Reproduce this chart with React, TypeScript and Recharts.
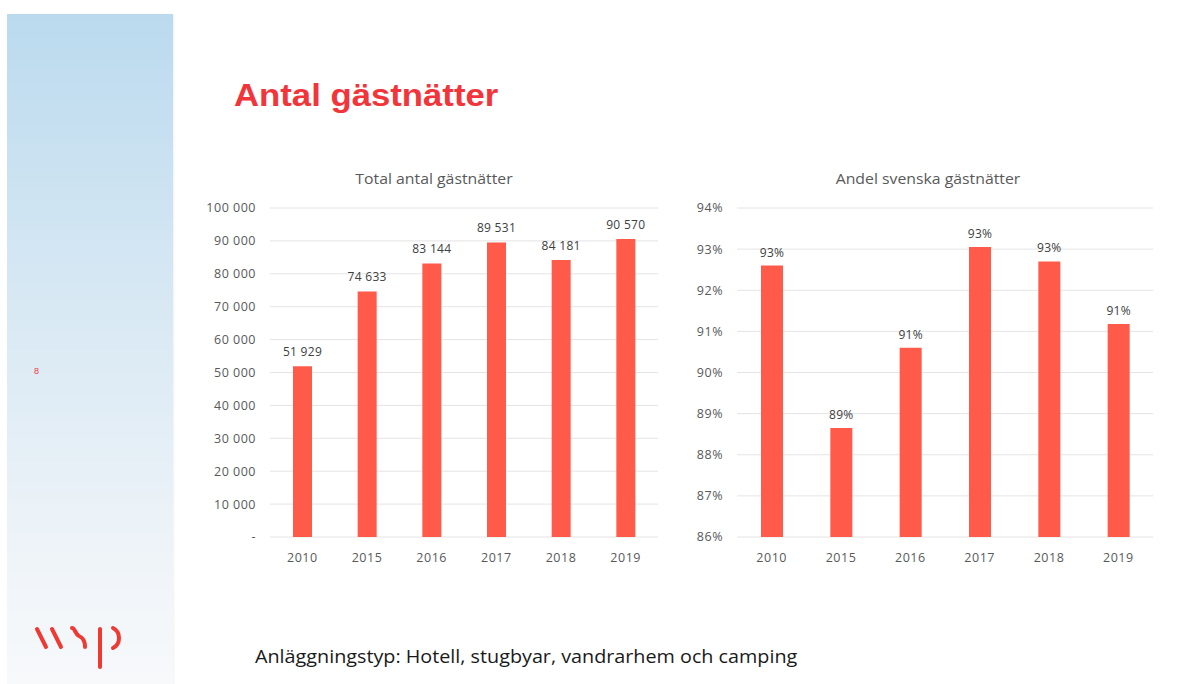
import React from "react";
import {
  Bar,
  BarChart,
  CartesianGrid,
  LabelList,
  XAxis,
  YAxis,
} from "recharts";

const years = ["2010", "2015", "2016", "2017", "2018", "2019"];
const totalNights = [51929, 74633, 83144, 89531, 84181, 90570];
const swedishShare = [0.926, 0.8865, 0.906, 0.9305, 0.927, 0.9118];
const totalTicks = [0, 10000, 20000, 30000, 40000, 50000, 60000, 70000, 80000, 90000, 100000];
const shareTicks = [0.86, 0.87, 0.88, 0.89, 0.9, 0.91, 0.92, 0.93, 0.94];

const totalData = years.map((year, i) => ({ year, value: totalNights[i] }));
const shareData = years.map((year, i) => ({ year, value: swedishShare[i] }));

const BAR = "#ff5a4a";
const RED = "#f2353a";
const TEXT = "#595959";
const FONT = "'Open Sans', Lato, sans-serif";

// non-breaking space so Recharts doesn't wrap "51 929"
const fmtThousands = (v: number) =>
  v === 0 ? "-" : String(Math.round(v)).replace(/\B(?=(\d{3})+(?!\d))/g, "\u00a0");
const fmtPct = (v: number) => `${Math.round(v * 100)}%`;

const tick = { fill: TEXT, fontSize: 12.5, fontFamily: FONT, letterSpacing: 0.5 };
const labelStyle = { fill: "#404040", fontSize: 12, fontFamily: FONT, letterSpacing: 0.3 };

function ChartTitle({ x, y, children }: { x: number; y: number; children: string }) {
  return (
    <div
      style={{
        position: "absolute",
        left: x - 150,
        top: y - 11,
        width: 300,
        textAlign: "center",
        fontFamily: FONT,
        fontSize: 14.5,
        color: TEXT,
        transform: "scaleX(1.09)",
        transformOrigin: "center top",
      }}
    >
      {children}
    </div>
  );
}

function WspLogo() {
  return (
    <svg
      width={1204}
      height={684}
      style={{ position: "absolute", left: 0, top: 0 }}
    >
      <g stroke="#ee3a33" strokeWidth={4} fill="none" strokeLinecap="round">
        <path d="M37 629 L46 647" />
        <path d="M52 629 L61 647" />
        <path d="M72 628 C75 628 75 634 79 636 C84 638 85 642 85 647" />
        <path d="M100 629 L100 667" />
        <path d="M113 628 C121 632 121 644 113 648" />
      </g>
    </svg>
  );
}

export default function App() {
  return (
    <div
      style={{
        position: "absolute",
        left: 0,
        top: 0,
        width: 1204,
        height: 684,
        background: "#fff",
        overflow: "hidden",
        fontFamily: FONT,
      }}
    >
      <div
        style={{
          position: "absolute",
          left: 7,
          top: 14,
          width: 166,
          height: 670,
          background: "linear-gradient(180deg, #bbdaee 0%, #d9e9f4 45%, #f1f5f9 85%, #f7f9fb 100%)",
          boxShadow: "1px 0 2px rgba(0,0,0,0.06)",
        }}
      />
      <div
        style={{
          position: "absolute",
          left: 34,
          top: 366,
          fontSize: 9,
          color: RED,
          fontFamily: "'Liberation Sans', Arial, sans-serif",
        }}
      >
        8
      </div>
      <WspLogo />

      <div
        style={{
          position: "absolute",
          left: 234,
          top: 78,
          fontFamily: "'Liberation Sans', Arial, sans-serif",
          fontWeight: 700,
          fontSize: 31,
          color: RED,
          whiteSpace: "nowrap",
          transform: "scaleX(1.12)",
          transformOrigin: "left top",
        }}
      >
        Antal gästnätter
      </div>

      <ChartTitle x={434} y={180}>Total antal gästnätter</ChartTitle>
      <ChartTitle x={928} y={180}>Andel svenska gästnätter</ChartTitle>

      <div style={{ position: "absolute", left: 200, top: 190 }}>
        <BarChart
          width={460}
          height={377}
          data={totalData}
          margin={{ top: 18, right: 2, bottom: 0, left: 0 }}
          barSize={19}
        >
          <CartesianGrid stroke="#e4e4e4" vertical={false} />
          <XAxis
            dataKey="year"
            tick={tick}
            axisLine={false}
            tickLine={false}
            tickSize={0}
            tickMargin={16}
            height={30}
          />
          <YAxis
            domain={[0, 100000]}
            ticks={totalTicks}
            tickFormatter={fmtThousands}
            tick={tick}
            axisLine={false}
            tickLine={false}
            tickSize={0}
            tickMargin={14}
            width={70}
            interval={0}
          />
          <Bar dataKey="value" fill={BAR} isAnimationActive={false}>
            <LabelList
              dataKey="value"
              position="top"
              offset={10}
              formatter={(v: any) => fmtThousands(Number(v))}
              style={labelStyle}
            />
          </Bar>
        </BarChart>
      </div>

      <div style={{ position: "absolute", left: 667, top: 190 }}>
        <BarChart
          width={488}
          height={377}
          data={shareData}
          margin={{ top: 18, right: 2, bottom: 0, left: 0 }}
          barSize={22}
        >
          <CartesianGrid stroke="#e4e4e4" vertical={false} />
          <XAxis
            dataKey="year"
            tick={tick}
            axisLine={false}
            tickLine={false}
            tickSize={0}
            tickMargin={16}
            height={30}
          />
          <YAxis
            domain={[0.86, 0.94]}
            ticks={shareTicks}
            tickFormatter={fmtPct}
            tick={tick}
            axisLine={false}
            tickLine={false}
            tickSize={0}
            tickMargin={14}
            width={70}
            interval={0}
          />
          <Bar dataKey="value" fill={BAR} isAnimationActive={false}>
            <LabelList
              dataKey="value"
              position="top"
              offset={9}
              formatter={(v: any) => fmtPct(Number(v))}
              style={labelStyle}
            />
          </Bar>
        </BarChart>
      </div>

      <div
        style={{
          position: "absolute",
          left: 255,
          top: 643,
          fontSize: 19,
          color: "#1a1a1a",
          fontFamily: FONT,
          whiteSpace: "nowrap",
          transform: "scaleX(1.04)",
          transformOrigin: "left top",
        }}
      >
        Anläggningstyp: Hotell, stugbyar, vandrarhem och camping
      </div>
    </div>
  );
}
